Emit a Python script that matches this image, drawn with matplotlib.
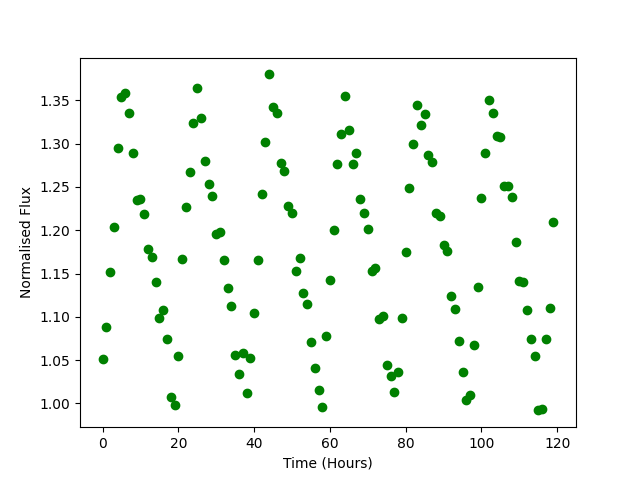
import numpy as np
import matplotlib
matplotlib.use("Agg")
import matplotlib.pyplot as plt

# hourly samples
hours = np.arange(120)
flux = [
    1.051, 1.088, 1.152, 1.204, 1.295, 1.354, 1.358, 1.335, 1.289, 1.235,
    1.236, 1.219, 1.178, 1.169, 1.140, 1.099, 1.108, 1.074, 1.007, 0.998,
    1.055, 1.167, 1.227, 1.267, 1.324, 1.364, 1.330, 1.280, 1.253, 1.240,
    1.196, 1.198, 1.166, 1.133, 1.113, 1.056, 1.034, 1.058, 1.012, 1.052,
    1.104, 1.166, 1.242, 1.302, 1.380, 1.342, 1.336, 1.278, 1.269, 1.228,
    1.220, 1.153, 1.168, 1.128, 1.115, 1.071, 1.041, 1.015, 0.996, 1.078,
    1.143, 1.200, 1.276, 1.311, 1.355, 1.316, 1.276, 1.289, 1.236, 1.220,
    1.201, 1.153, 1.156, 1.098, 1.101, 1.044, 1.032, 1.013, 1.036, 1.099,
    1.175, 1.249, 1.300, 1.345, 1.321, 1.334, 1.287, 1.279, 1.220, 1.216,
    1.183, 1.176, 1.124, 1.109, 1.072, 1.036, 1.004, 1.010, 1.067, 1.135,
    1.237, 1.289, 1.351, 1.336, 1.309, 1.308, 1.251, 1.251, 1.238, 1.186,
    1.141, 1.140, 1.108, 1.075, 1.055, 0.992, 0.994, 1.074, 1.110, 1.209,
]

fig = plt.figure(figsize=(6.4, 4.8), dpi=100)
plt.plot(hours, flux, 'go')
plt.xlabel("Time (Hours)")
plt.ylabel("Normalised Flux")
plt.savefig("out.png")
